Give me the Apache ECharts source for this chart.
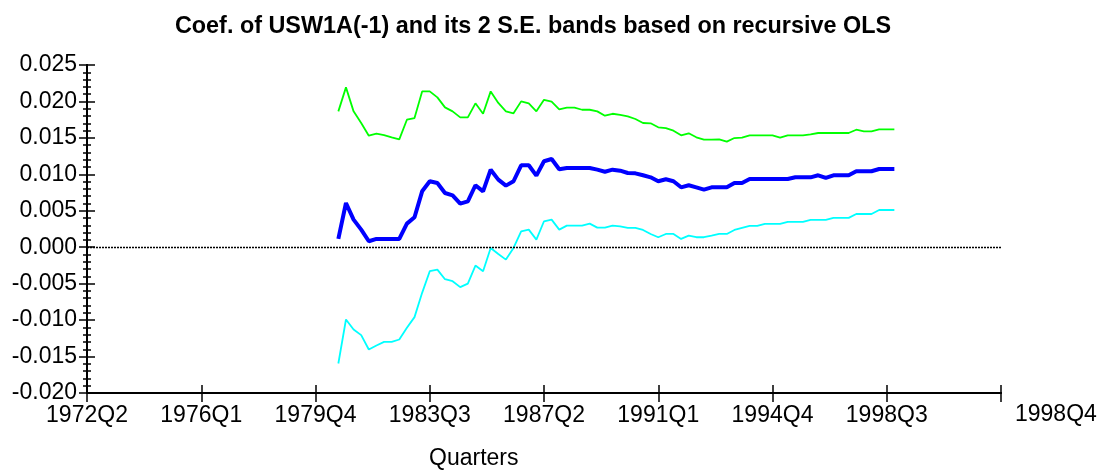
<!DOCTYPE html>
<html>
<head>
<meta charset="utf-8">
<script src="https://cdn.jsdelivr.net/npm/echarts@6/dist/echarts.min.js"></script>
<style>
  html, body { margin: 0; padding: 0; background: #fff; }
  #chart { width: 1108px; height: 472px; }
</style>
</head>
<body>
<div id="chart"></div>
<script>
// recursive OLS estimate of USW1A(-1), 1980Q3 .. 1998Q4
const firstObs = '1980Q3';
const coefValues = [
  0.00114, 0.00607, 0.00379, 0.00241, 0.00082, 0.00114, 0.00114, 0.00114, 0.00114, 0.00324,
  0.00411, 0.00767, 0.00905, 0.00881, 0.00744, 0.00712, 0.00598, 0.00630, 0.00850, 0.00767,
  0.01064, 0.00927, 0.00845, 0.00905, 0.01124, 0.01124, 0.00982, 0.01179, 0.01210, 0.01069,
  0.01087, 0.01087, 0.01087, 0.01087, 0.01064, 0.01036, 0.01064,
  0.01050, 0.01018, 0.01014, 0.00987, 0.00959, 0.00905, 0.00932, 0.00905, 0.00822, 0.00850,
  0.00822, 0.00790, 0.00822, 0.00822, 0.00822, 0.00881, 0.00881, 0.00936, 0.00936, 0.00936,
  0.00936, 0.00936, 0.00936, 0.00959, 0.00959, 0.00959, 0.00987, 0.00950, 0.00987, 0.00987,
  0.00987, 0.01042, 0.01042, 0.01042, 0.01073, 0.01073, 0.01073
];
const upperBand = [
  0.01864, 0.02193, 0.01864, 0.01704, 0.01530, 0.01557, 0.01539, 0.01508, 0.01480, 0.01749,
  0.01772, 0.02138, 0.02138, 0.02056, 0.01919, 0.01864, 0.01782, 0.01782, 0.01974, 0.01831,
  0.02138, 0.01979, 0.01864, 0.01837, 0.02001, 0.01974, 0.01864, 0.02023, 0.01996, 0.01891,
  0.01914, 0.01914, 0.01886, 0.01886, 0.01864, 0.01804, 0.01831,
  0.01817, 0.01795, 0.01759, 0.01704, 0.01700, 0.01645, 0.01635, 0.01599, 0.01535, 0.01563,
  0.01508, 0.01475, 0.01475, 0.01480, 0.01448, 0.01498, 0.01503, 0.01535, 0.01535, 0.01535,
  0.01535, 0.01503, 0.01535, 0.01535, 0.01535, 0.01549, 0.01567, 0.01567, 0.01567, 0.01567,
  0.01567, 0.01612, 0.01590, 0.01590, 0.01617, 0.01617, 0.01617
];
const lowerBand = [
  -0.01595, -0.00992, -0.01129, -0.01206, -0.01403, -0.01348, -0.01298, -0.01298, -0.01266, -0.01106,
  -0.00959, -0.00626, -0.00329, -0.00307, -0.00439, -0.00466, -0.00548, -0.00499, -0.00252, -0.00329,
  -0.00010, -0.00092, -0.00170, -0.00010, 0.00219, 0.00241, 0.00104, 0.00356, 0.00379, 0.00241,
  0.00296, 0.00296, 0.00296, 0.00324, 0.00269, 0.00269, 0.00296,
  0.00287, 0.00265, 0.00265, 0.00237, 0.00182, 0.00137, 0.00182, 0.00182, 0.00114, 0.00159,
  0.00137, 0.00137, 0.00159, 0.00182, 0.00182, 0.00237, 0.00265, 0.00292, 0.00292, 0.00319,
  0.00319, 0.00319, 0.00347, 0.00347, 0.00347, 0.00374, 0.00374, 0.00374, 0.00402, 0.00402,
  0.00402, 0.00456, 0.00456, 0.00456, 0.00511, 0.00511, 0.00511
];
const yMin = -0.020, yMax = 0.025, yStep = 0.005;

// axis runs 1972Q2 .. 2002Q2, labelled every 15 quarters
const axisQuarters = [];
for (let y = 1972; y <= 2002; y++) {
  for (let q = 1; q <= 4; q++) {
    if ((y === 1972 && q < 2) || (y === 2002 && q > 2)) continue;
    axisQuarters.push(y + 'Q' + q);
  }
}
const lastIdx = axisQuarters.length - 1;
const start = axisQuarters.indexOf(firstObs);
const toPairs = arr => arr.map((v, i) => [axisQuarters[start + i], v]);

const font = "'Liberation Sans', Arial, sans-serif";

let myChart = echarts.init(document.getElementById('chart'));

const xBase = {
  type: 'category',
  data: axisQuarters,
  boundaryGap: false,
  position: 'bottom',
  axisLine: { onZero: false, lineStyle: { color: '#000', width: 2 } },
  splitLine: { show: false }
};
const yBase = {
  type: 'value',
  min: yMin,
  max: yMax,
  interval: yStep,
  axisLine: { show: true, onZero: false, lineStyle: { color: '#000', width: 2 } },
  splitLine: { show: false },
  minorTick: { show: true, splitNumber: 5, length: 4, lineStyle: { color: '#000', width: 1.5 } }
};

myChart.setOption({
  animation: false,
  backgroundColor: '#fff',
  title: {
    text: 'Coef. of USW1A(-1) and its 2 S.E. bands based on recursive OLS',
    left: 528,
    textAlign: 'center',
    top: 10,
    textStyle: { fontFamily: font, fontSize: 23.4, fontWeight: 'bold', color: '#000' }
  },
  grid: { left: 87, right: 107, top: 65, bottom: 79 },
  xAxis: [
    Object.assign({}, xBase, {
      axisTick: { show: true, inside: false, length: 9, interval: i => i % 15 === 0, lineStyle: { color: '#000', width: 1.5 } },
      axisLabel: {
        interval: i => i % 15 === 0 && i < lastIdx,
        margin: 11,
        fontFamily: font, fontSize: 23, color: '#000'
      }
    }),
    Object.assign({}, xBase, {
      axisTick: { show: true, inside: true, length: 8, interval: i => i % 15 === 0, lineStyle: { color: '#000', width: 1.5 } },
      axisLabel: { show: false }
    })
  ],
  yAxis: [
    Object.assign({}, yBase, {
      axisTick: { show: true, inside: false, length: 8, lineStyle: { color: '#000', width: 1.5 } },
      axisLabel: {
        margin: 10,
        fontFamily: font, fontSize: 23, color: '#000',
        padding: [6, 0, 0, 0],
        formatter: v => v.toFixed(3)
      }
    }),
    Object.assign({}, yBase, {
      axisTick: { show: true, inside: true, length: 8, lineStyle: { color: '#000', width: 1.5 } },
      axisLabel: { show: false },
      position: 'left'
    })
  ],
  graphic: [
    {
      type: 'text', left: 1015, top: 403,
      style: { text: axisQuarters[start + coefValues.length - 1], fontFamily: font, fontSize: 23, fill: '#000' }
    },
    {
      type: 'text', left: 429, top: 447,
      style: { text: 'Quarters', fontFamily: font, fontSize: 23, fill: '#000' }
    }
  ],
  series: [
    {
      name: 'upper', type: 'line', data: toPairs(upperBand),
      symbol: 'none', lineStyle: { color: '#00ff00', width: 1.8 },
      markLine: {
        silent: true, symbol: 'none', label: { show: false },
        lineStyle: { color: '#000', width: 1.3, type: [2, 1] },
        data: [{ yAxis: 0 }]
      }
    },
    {
      name: 'coef', type: 'line', data: toPairs(coefValues),
      symbol: 'none', lineStyle: { color: '#0000ff', width: 4 }
    },
    {
      name: 'lower', type: 'line', data: toPairs(lowerBand),
      symbol: 'none', lineStyle: { color: '#00ffff', width: 1.8 }
    }
  ]
});
</script>
</body>
</html>
